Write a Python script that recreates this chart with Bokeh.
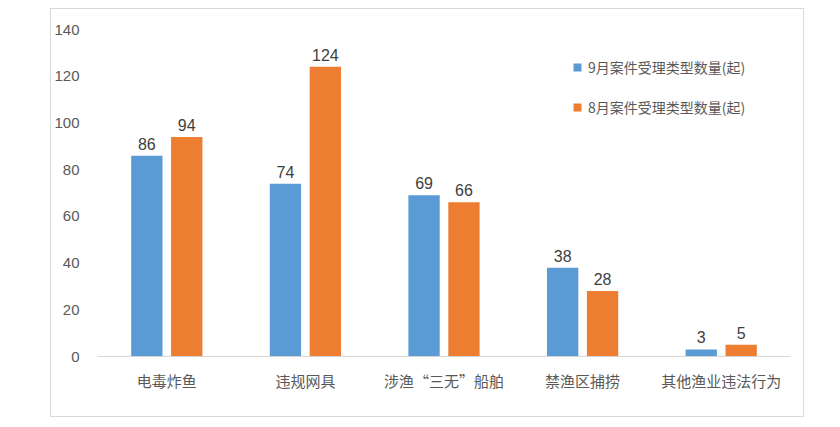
from bokeh.plotting import figure
from bokeh.models import ColumnDataSource, Legend, LegendItem, FixedTicker
from bokeh.transform import dodge
from bokeh.core.properties import value
from bokeh.embed import file_html
from bokeh.resources import INLINE

categories = ["电毒炸鱼", "违规网具", "涉渔“三无”船舶", "禁渔区捕捞", "其他渔业违法行为"]
sep_counts = [86, 74, 69, 38, 3]
aug_counts = [94, 124, 66, 28, 5]
series_names = ["9月案件受理类型数量(起)", "8月案件受理类型数量(起)"]
y_ticks = [0, 20, 40, 60, 80, 100, 120, 140]

BLUE = "#5B9BD5"
ORANGE = "#ED7D31"
GRAY = "#595959"
CJK = "Noto Sans CJK SC"

src = ColumnDataSource(dict(
    cat=categories, sep=sep_counts, aug=aug_counts,
    sep_t=[str(v) for v in sep_counts], aug_t=[str(v) for v in aug_counts],
))

p = figure(x_range=categories, y_range=(0, 140), width=754, height=409,
           output_backend="svg", toolbar_location=None,
           min_border_left=43, min_border_right=15, min_border_top=20, min_border_bottom=62)
p.margin = (8, 0, 0, 50)
p.styles = {"border": "1px solid #d9d9d9"}
p.outline_line_color = None
p.background_fill_color = "white"
p.border_fill_color = "white"
p.xgrid.visible = False
p.ygrid.visible = False

w = 0.226
r1 = p.vbar(x=dodge("cat", -0.144, range=p.x_range), top="sep", width=w, source=src,
            fill_color=BLUE, line_color=None)
r2 = p.vbar(x=dodge("cat", 0.144, range=p.x_range), top="aug", width=w, source=src,
            fill_color=ORANGE, line_color=None)

for col, off in (("sep_t", -0.144), ("aug_t", 0.144)):
    p.text(x=dodge("cat", off, range=p.x_range), y=col.replace("_t", ""), text=col, source=src,
           text_align="center", text_baseline="alphabetic", y_offset=-12,
           text_font=value("Liberation Sans"), text_font_size="16px", text_color="#404040")

# axes
p.yaxis.ticker = FixedTicker(ticks=y_ticks)
p.yaxis.axis_line_color = None
p.yaxis.major_tick_line_color = None
p.yaxis.minor_tick_line_color = None
p.yaxis.major_label_standoff = 12
p.yaxis.major_label_text_font = "Liberation Sans"
p.yaxis.major_label_text_font_size = "15px"
p.yaxis.major_label_text_color = GRAY

p.xaxis.axis_line_color = "#d9d9d9"
p.xaxis.axis_line_width = 1
p.xaxis.major_tick_line_color = None
p.xaxis.minor_tick_line_color = None
p.xaxis.major_label_standoff = 7
p.xaxis.major_label_text_font = CJK
p.xaxis.major_label_text_font_size = "15px"
p.xaxis.major_label_text_color = GRAY

legend = Legend(items=[LegendItem(label=series_names[0], renderers=[r1]),
                       LegendItem(label=series_names[1], renderers=[r2])],
                location=(475, 239), orientation="vertical",
                glyph_width=10, glyph_height=10, label_height=20, spacing=20,
                padding=0, margin=0, label_standoff=6,
                border_line_color=None, background_fill_alpha=0,
                label_text_font=CJK, label_text_font_size="14px", label_text_color=GRAY)
p.add_layout(legend)

open("out.html", "w").write(file_html(p, INLINE))
